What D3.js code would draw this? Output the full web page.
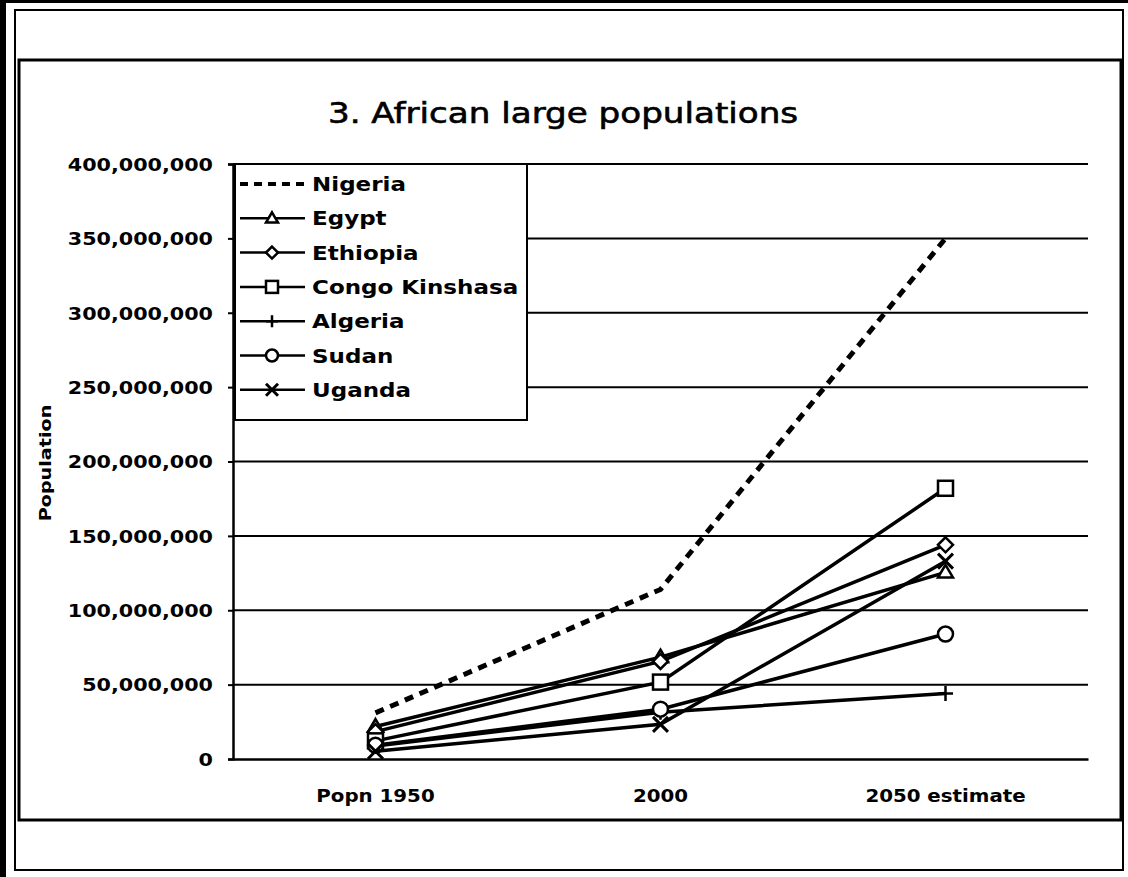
<!DOCTYPE html>
<html>
<head>
<meta charset="utf-8">
<script src="https://cdn.jsdelivr.net/npm/d3@7"></script>
<style>
  body { margin: 0; background: #fff; }
  text { font-family: "DejaVu Sans", Verdana, sans-serif; fill: #000; }
</style>
</head>
<body>
<script>
// data
var categories = ['Popn 1950', '2000', '2050 estimate']
var seriesNames = ['Nigeria', 'Egypt', 'Ethiopia', 'Congo Kinshasa', 'Algeria', 'Sudan', 'Uganda']
var nigeria  = [31000000, 114000000, 350000000]
var egypt    = [21800000, 68500000, 125500000]
var ethiopia = [18400000, 65600000, 144000000]
var congo    = [12200000, 51700000, 182000000]
var algeria  = [8800000, 31500000, 44000000]
var sudan    = [9200000, 33500000, 84000000]
var uganda   = [5200000, 23300000, 133000000]
var yTicks = [0, 50000000, 100000000, 150000000, 200000000, 250000000, 300000000, 350000000, 400000000]

var series = [nigeria, egypt, ethiopia, congo, algeria, sudan, uganda]
var markers = ['none', 'triangle', 'diamond', 'square', 'plus', 'circle', 'cross']

var W = 1128, H = 877
var SX = 1.15   // the scanned picture is stretched sideways a little

var svg = d3.select('body').append('svg').attr('width', W).attr('height', H)

// frames
svg.append('rect').attr('x', 0).attr('y', 0).attr('width', 6).attr('height', H).attr('fill', '#000')
svg.append('rect').attr('x', 0).attr('y', 0).attr('width', W).attr('height', 3).attr('fill', '#000')
svg.append('rect').attr('x', 15).attr('y', 10).attr('width', 1108).attr('height', 860)
    .attr('fill', 'none').attr('stroke', '#000').attr('stroke-width', 2)
svg.append('rect').attr('x', 19).attr('y', 60).attr('width', 1102).attr('height', 760)
    .attr('fill', '#fff').attr('stroke', '#000').attr('stroke-width', 3)

var margin = {top: 164, left: 233, right: 40, bottom: 118}
var plotW = W - margin.left - margin.right
var plotH = H - margin.top - margin.bottom

var band = d3.scaleBand().domain(categories).range([0, plotW])
var x = function(c) { return band(c) + band.bandwidth() / 2 }
var y = d3.scaleLinear().domain([0, 400000000]).range([plotH, 0])

var plot = svg.append('g').attr('transform', `translate(${margin.left},${margin.top})`)

// gridlines
plot.append('g').selectAll('line').data(yTicks.slice(1)).enter().append('line')
    .attr('x1', 0).attr('x2', plotW)
    .attr('y1', function(d) { return y(d) }).attr('y2', function(d) { return y(d) })
    .attr('stroke', '#000').attr('stroke-width', 2)

// y axis
var axisY = plot.append('g').call(d3.axisLeft(y).tickValues(yTicks).tickSize(5).tickFormat(d3.format(',')))
axisY.select('.domain').attr('stroke', '#000').attr('stroke-width', 2.5)
axisY.selectAll('.tick line').attr('stroke-width', 2)
axisY.selectAll('text').attr('font-size', 18).attr('font-weight', 'bold')
    .attr('font-family', '"DejaVu Sans", sans-serif').attr('dy', '0.35em').attr('x', 0)
    .attr('transform', `translate(-20,0) scale(${SX},1)`)

// x axis
var axisX = plot.append('g').attr('transform', `translate(0,${plotH})`)
    .call(d3.axisBottom(band).tickSize(0).tickPadding(30))
axisX.select('.domain').attr('stroke', '#000').attr('stroke-width', 2.5)
axisX.selectAll('text').attr('font-size', 18).attr('font-weight', 'bold')
    .attr('font-family', '"DejaVu Sans", sans-serif')
    .attr('transform', 'scale(1.1,1)')

// markers
function drawMarker(g, type, cx, cy, s) {
  if (type === 'triangle') {
    g.append('path').attr('d', `M${cx},${cy - s}L${cx + s},${cy + s * 0.7}L${cx - s},${cy + s * 0.7}Z`)
      .attr('fill', '#fff').attr('stroke', '#000').attr('stroke-width', 2.5)
  } else if (type === 'diamond') {
    g.append('path').attr('d', `M${cx},${cy - s}L${cx + s},${cy}L${cx},${cy + s}L${cx - s},${cy}Z`)
      .attr('fill', '#fff').attr('stroke', '#000').attr('stroke-width', 2.5)
  } else if (type === 'square') {
    g.append('rect').attr('x', cx - s).attr('y', cy - s).attr('width', 2 * s).attr('height', 2 * s)
      .attr('fill', '#fff').attr('stroke', '#000').attr('stroke-width', 2.5)
  } else if (type === 'circle') {
    g.append('circle').attr('cx', cx).attr('cy', cy).attr('r', s)
      .attr('fill', '#fff').attr('stroke', '#000').attr('stroke-width', 2.5)
  } else if (type === 'plus') {
    g.append('path').attr('d', `M${cx - s},${cy}H${cx + s}M${cx},${cy - s}V${cy + s}`)
      .attr('stroke', '#000').attr('stroke-width', 2.5)
  } else if (type === 'cross') {
    g.append('path').attr('d', `M${cx - s},${cy - s}L${cx + s},${cy + s}M${cx + s},${cy - s}L${cx - s},${cy + s}`)
      .attr('stroke', '#000').attr('stroke-width', 3)
  }
}

var line = d3.line().x(function(d, i) { return x(categories[i]) }).y(function(d) { return y(d) })

series.forEach(function(vals, k) {
  var g = plot.append('g')
  g.append('path').datum(vals).attr('d', line).attr('fill', 'none').attr('stroke', '#000')
    .attr('stroke-width', k === 0 ? 5 : 3.5)
    .attr('stroke-dasharray', k === 0 ? '9,7' : null)
  vals.forEach(function(v, i) {
    drawMarker(g, markers[k], x(categories[i]), y(v), 7.5)
  })
})

// title
svg.append('text').text('3. African large populations')
    .attr('text-anchor', 'middle').attr('font-size', 28)
    .attr('stroke', '#000').attr('stroke-width', 0.6)
    .attr('transform', 'translate(563,123) scale(1.22,1)')

// y title
svg.append('text').text('Population')
    .attr('text-anchor', 'middle').attr('font-size', 16).attr('font-weight', 'bold')
    .attr('transform', 'translate(51,463) rotate(-90) scale(1.2,1)')

// legend
var legend = svg.append('g').attr('transform', 'translate(235,164)')
legend.append('rect').attr('width', 292).attr('height', 256).attr('fill', '#fff')
    .attr('stroke', '#000').attr('stroke-width', 2)
seriesNames.forEach(function(name, k) {
  var ly = 20 + k * 34.3
  var g = legend.append('g')
  g.append('line').attr('x1', 5).attr('x2', 70).attr('y1', ly).attr('y2', ly)
    .attr('stroke', '#000').attr('stroke-width', k === 0 ? 4 : 2.5)
    .attr('stroke-dasharray', k === 0 ? '8,6' : null)
  drawMarker(g, markers[k], 37, ly, 6)
  g.append('text').text(name).attr('font-size', 20).attr('font-weight', 'bold')
    .attr('dy', '0.35em')
    .attr('transform', `translate(77,${ly}) scale(1.15,1)`)
})
</script>
</body>
</html>
